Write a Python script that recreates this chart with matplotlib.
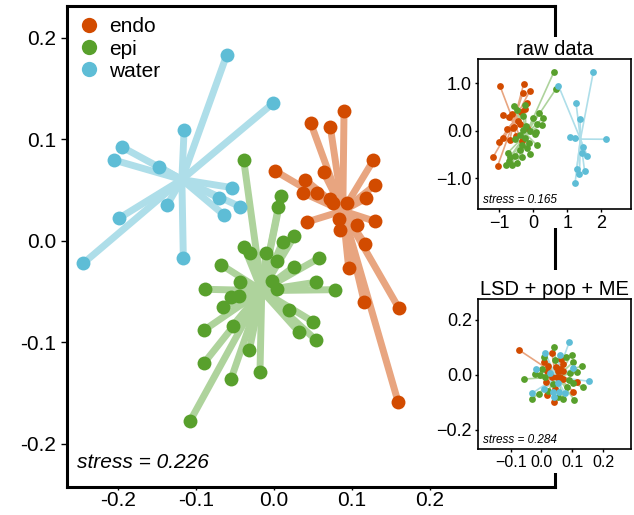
import numpy as np
import matplotlib
matplotlib.use('Agg')
import matplotlib.pyplot as plt
from matplotlib.lines import Line2D
from matplotlib.patches import Rectangle

plt.rcParams['font.family'] = ['Liberation Sans', 'DejaVu Sans']
plt.rcParams['axes.unicode_minus'] = False

groups = ['endo', 'epi', 'water']
pt_cols = {'endo': '#d24b00', 'epi': '#58a02c', 'water': '#5ebdd6'}
spoke_cols = {'endo': '#e8a580', 'epi': '#aed39c', 'water': '#aedee9'}

# main NMDS (all factors)
main_endo_x = [0.0899, 0.0471, 0.0723, 0.1275, 0.0017, 0.0638, 0.0402, 0.1297, 0.0372, 0.0556,
               0.0719, 0.1181, 0.0754, 0.0937, 0.0420, 0.1297, 0.0838, 0.1069, 0.0847, 0.1172,
               0.0959, 0.1159, 0.1601, 0.1592]
main_endo_y = [0.1277, 0.1158, 0.1119, 0.0791, 0.0686, 0.0673, 0.0600, 0.0548, 0.0472, 0.0472,
               0.0410, 0.0417, 0.0371, 0.0374, 0.0184, 0.0191, 0.0211, 0.0157, 0.0105, -0.0035,
               -0.0272, -0.0606, -0.0662, -0.1585]
main_epi_x = [-0.0389, 0.0094, 0.0055, 0.0261, 0.0112, -0.0385, -0.0308, -0.0103, 0.0042, 0.0574,
              -0.0680, 0.0257, -0.0436, -0.0030, 0.0035, 0.0535, 0.0783, -0.0890, -0.0552, -0.0449,
              -0.0655, 0.0189, 0.0501, 0.0317, 0.0539, -0.0895, -0.0530, -0.0317, -0.0895, -0.0552,
              -0.0180, -0.1078]
main_epi_y = [0.0794, 0.0443, 0.0329, 0.0046, -0.0010, -0.0059, -0.0118, -0.0118, -0.0197, -0.0173,
              -0.0236, -0.0256, -0.0404, -0.0397, -0.0472, -0.0409, -0.0482, -0.0478, -0.0551, -0.0541,
              -0.0656, -0.0685, -0.0797, -0.0896, -0.0977, -0.0879, -0.0837, -0.1076, -0.1201, -0.1361,
              -0.1289, -0.1775]
main_water_x = [-0.0607, -0.0009, -0.1154, -0.1951, -0.2054, -0.1476, -0.0535, -0.0710, -0.0436,
                -0.0646, -0.1374, -0.1994, -0.2448, -0.1164]
main_water_y = [0.1828, 0.1355, 0.1089, 0.0922, 0.0794, 0.0728, 0.0522, 0.0420, 0.0335,
                0.0256, 0.0349, 0.0219, -0.0222, -0.0173]

# raw data inset
raw_endo_x = [-0.98, -0.28, -0.10, -0.31, -0.90, -0.71, -0.63, -0.37, -0.24, -0.46, -0.56, -0.18,
              -0.77, -0.59, -0.88, -0.69, -0.51, -1.02, -0.34, -1.18, -1.05, -0.18, -0.40]
raw_endo_y = [0.94, 0.99, 0.84, 0.79, 0.32, 0.28, 0.36, 0.39, 0.46, 0.21, 0.08, 0.06,
              0.03, 0.05, -0.16, -0.20, -0.11, -0.23, -0.22, -0.55, -0.74, 0.58, 0.15]
raw_epi_x = [0.61, 0.66, -0.57, -0.24, 0.16, 0.00, 0.29, 0.12, 0.25, -0.20, -0.29, -0.10, 0.05,
             -0.39, -0.25, -0.54, -0.12, -0.34, -0.18, -0.39, -0.74, -0.53, -0.69, -0.34, -0.10,
             -0.79, -0.64, -0.47, -0.72, 0.08, -0.49, -0.30, 0.10]
raw_epi_y = [1.24, 0.87, 0.52, 0.54, 0.38, 0.26, 0.27, 0.15, 0.13, 0.10, 0.01, -0.01, -0.06,
             -0.09, -0.16, -0.18, -0.25, -0.30, -0.37, -0.41, -0.46, -0.53, -0.56, -0.56, -0.49,
             -0.72, -0.72, -0.69, -0.64, -0.02, 0.44, 0.30, -0.30]
raw_water_x = [1.77, 0.74, 1.26, 1.38, 1.08, 1.24, 2.14, 1.45, 1.43, 1.59, 1.28, 1.36, 1.51, 1.23]
raw_water_y = [1.24, 0.95, 0.58, 0.24, -0.13, -0.15, -0.18, -0.34, -0.48, -0.53, -0.81, -0.92, -0.84, -1.11]

# LSD + pop + ME inset
lsd_endo_x = [-0.073, 0.034, 0.065, 0.009, 0.071, 0.023, 0.048, 0.061, 0.019, 0.053, 0.071,
              0.034, 0.052, 0.071, 0.015, 0.117, 0.044, 0.019, 0.104, 0.041, 0.060]
lsd_endo_y = [0.091, 0.081, 0.058, 0.046, 0.040, 0.033, 0.028, 0.021, 0.016, 0.015, 0.016,
              -0.006, -0.008, -0.015, -0.027, -0.025, -0.051, -0.073, -0.061, -0.099, -0.006]
lsd_epi_x = [0.041, 0.009, 0.080, 0.098, 0.104, 0.131, 0.044, 0.001, -0.021, -0.058, -0.004,
             0.012, 0.093, 0.091, 0.115, 0.136, 0.082, -0.007, 0.023, -0.031, 0.071, 0.107,
             0.055, 0.039, 0.101]
lsd_epi_y = [0.103, 0.067, 0.067, 0.073, 0.048, 0.034, 0.055, 0.022, 0.004, -0.015, 0.000,
             -0.008, 0.006, -0.018, 0.012, -0.045, -0.042, -0.069, -0.057, -0.088, -0.088, -0.091,
             -0.079, -0.033, -0.030]
lsd_water_x = [0.090, 0.012, 0.061, -0.017, 0.104, 0.156, 0.009, -0.031, 0.041, 0.058, 0.076,
               0.055, 0.028, 0.039]
lsd_water_y = [0.118, 0.081, 0.073, 0.022, 0.024, -0.023, -0.051, -0.067, -0.079, -0.061, -0.067,
               -0.030, 0.006, -0.061]

main_data = {'endo': (main_endo_x, main_endo_y), 'epi': (main_epi_x, main_epi_y),
             'water': (main_water_x, main_water_y)}
raw_data = {'endo': (raw_endo_x, raw_endo_y), 'epi': (raw_epi_x, raw_epi_y),
            'water': (raw_water_x, raw_water_y)}
lsd_data = {'endo': (lsd_endo_x, lsd_endo_y), 'epi': (lsd_epi_x, lsd_epi_y),
            'water': (lsd_water_x, lsd_water_y)}


def spider(ax, data, lw, s):
    # spokes from group centroid, then the points on top
    for g in groups:
        xs, ys = np.array(data[g][0]), np.array(data[g][1])
        cx, cy = xs.mean(), ys.mean()
        for x, y in zip(xs, ys):
            ax.plot([cx, x], [cy, y], color=spoke_cols[g], lw=lw, solid_capstyle='butt', zorder=1)
    for g in groups:
        xs, ys = data[g]
        ax.scatter(xs, ys, s=s, color=pt_cols[g], linewidths=0, zorder=2)


fig = plt.figure(figsize=(6.34, 5.15), dpi=100)

# main panel
ax = fig.add_axes([0.1062, 0.0544, 0.7692, 0.9339])
spider(ax, main_data, 5.0, 100)
ax.set_xlim(-0.2653, 0.3607)
ax.set_ylim(-0.2424, 0.231)
main_ticks = [-0.2, -0.1, 0.0, 0.1, 0.2]
main_labels = ['-0.2', '-0.1', '0.0', '0.1', '0.2']
ax.set_xticks(main_ticks)
ax.set_xticklabels(main_labels)
ax.set_yticks(main_ticks)
ax.set_yticklabels(main_labels)
ax.tick_params(labelsize=15, length=4, width=1, pad=4)
ax.tick_params(axis='x', length=2, pad=1)
for sp in ax.spines.values():
    sp.set_linewidth(2.2)
handles = [Line2D([], [], ls='', marker='o', ms=11, mec='none', color=pt_cols[g]) for g in groups]
ax.legend(handles, groups, loc='upper left', frameon=False, fontsize=15, handlelength=1.0,
          handletextpad=0.45, labelspacing=0.15, borderaxespad=0.25, borderpad=0.3)
ax.text(0.019, 0.04, 'stress = 0.226', style='italic', fontsize=15, transform=ax.transAxes,
        va='baseline')

# white background behind the insets
for y0, y1 in [(0.5573, 0.9282), (0.0816, 0.4757)]:
    fig.patches.append(Rectangle((0.70, y0), 0.30, y1 - y0, transform=fig.transFigure,
                                 facecolor='white', edgecolor='none', zorder=2))


def inset(rect, data, title, xt, xl, yt, yl, xlim, ylim, stress, xsize=13):
    a = fig.add_axes(rect, zorder=3)
    spider(a, data, 1.2, 24)
    a.set_xlim(*xlim)
    a.set_ylim(*ylim)
    a.set_xticks(xt)
    a.set_xticklabels(xl)
    a.set_yticks(yt)
    a.set_yticklabels(yl)
    a.tick_params(labelsize=13, length=2.5, width=1, pad=2)
    a.tick_params(axis='x', labelsize=xsize)
    for sp in a.spines.values():
        sp.set_linewidth(1.2)
    a.set_title(title, fontsize=14.5, pad=3)
    a.text(0.03, 0.04, stress, style='italic', fontsize=8.5, transform=a.transAxes, va='baseline')
    return a


inset([0.7544, 0.5942, 0.2404, 0.2907], raw_data, 'raw data',
      [-1, 0, 1, 2], ['\u22121', '0', '1', '2'],
      [-1, 0, 1], ['\u22121.0', '0.0', '1.0'],
      (-1.62, 2.87), (-1.648, 1.503), 'stress = 0.165')
inset([0.7544, 0.1282, 0.2404, 0.2907], lsd_data, 'LSD + pop + ME',
      [-0.1, 0.0, 0.1, 0.2], ['\u22120.1', '0.0', '0.1', '0.2'],
      [-0.2, 0.0, 0.2], ['\u22120.2', '0.0', '0.2'],
      (-0.205, 0.29), (-0.269, 0.275), 'stress = 0.284', xsize=11.5)

fig.savefig('out.png', dpi=100)
